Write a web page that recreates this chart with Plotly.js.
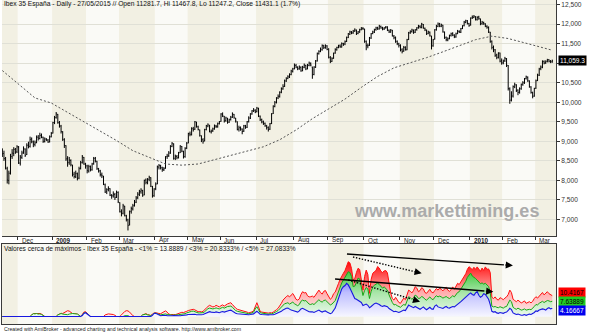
<!DOCTYPE html>
<html><head><meta charset="utf-8">
<script src="https://cdn.plot.ly/plotly-3.0.1.min.js"></script>
<style>html,body{margin:0;padding:0;background:#fff}#chart{width:592px;height:332px}</style>
</head><body><div id="chart"></div>
<script>
// ---- dates (trading days) ----
const firstDay = '2008-11-17', lastDay = '2010-03-15';
const holidays = ['2008-12-25','2008-12-26','2009-01-01','2009-04-10','2009-04-13','2009-05-01','2009-12-25','2010-01-01'];
const monthNames = ['Jan','Feb','Mar','Apr','May','Jun','Jul','Aug','Sep','Oct','Nov','Dec'];

// ---- price data (Ibex 35, daily OHLC) ----
const openP = [8750,8690,8540,8300,8000,8200,8610,8690,8800,8730,
8850,8440,8590,8710,8800,8660,8900,8870,9060,8980,
8920,8970,9110,9070,9160,9100,9000,9060,9030,8990,9120,
9210,9480,9610,9690,9470,9390,9240,9040,8890,8560,
8460,8510,8390,8160,8090,8170,8060,8310,8460,8590,8410,
8370,8240,8360,8270,8430,8570,8490,8290,8240,8140,
8100,7890,7710,7770,7790,7610,7610,7640,7570,7690,
7430,7190,7160,7340,7090,6990,6860,7210,7270,7360,7440,
7560,7640,7710,7740,7630,8010,7940,8030,8070,7840,7610,
7790,7920,8340,8370,8320,8270,8310,8610,8630,8700,
8870,8930,8570,8610,8590,8710,8870,8740,8610,8830,
8960,9190,9170,9320,9310,9490,9370,9290,9140,9040,
9010,9300,9390,9410,9240,9270,9310,9390,9370,9460,
9510,9690,9640,9530,9590,9490,9560,9610,9690,9590,
9500,9310,9340,9310,9260,9390,9360,9510,9590,9700,9770,9790,
9760,9840,9640,9560,9490,9460,9390,9360,9310,9460,9710,
9890,9990,10110,10140,10260,10340,10410,10540,10610,10640,10710,10790,
10860,10940,10890,10860,10890,10810,10890,10940,10860,10940,10990,
10900,10710,10890,11060,11240,11310,11340,11440,11390,11440,
11360,11140,11040,11130,11260,11340,11410,11440,11410,11500,
11490,11560,11660,11740,11790,11770,11820,11840,11760,11790,11860,11890,
11870,11560,11440,11460,11640,11760,11790,11860,11910,11870,11940,
11910,11870,11910,11930,11840,11790,11840,11690,11660,11560,11490,
11460,11340,11310,11410,11340,11610,11770,11810,11840,11790,11860,
11910,11940,11910,11990,11890,11840,11760,11790,11690,11440,
11620,11860,11940,12010,11940,11970,11790,11660,11590,11630,11710,
11760,11710,11670,11760,11810,11790,11890,11960,12040,12090,12010,
11980,12160,12170,12190,12110,12180,12130,12010,12040,12000,11940,
11910,11790,11560,11410,11340,11210,11140,11260,11060,
11010,11060,11110,10940,10340,10060,10160,10390,10440,10310,
10260,10340,10460,10490,10610,10640,10540,10390,10240,10160,
10360,10560,10690,10860,10890,11040,11010,11040,11090,11040,11030];
const highP = [8820,8760,8600,8350,8250,8680,8800,8850,8830,8900,
8880,8650,8760,8870,8820,8950,8990,9120,9100,9020,
9020,9150,9160,9220,9200,9120,9100,9080,9060,9150,9240,
9500,9650,9750,9700,9520,9420,9260,9080,8900,8620,
8600,8540,8400,8220,8250,8200,8350,8500,8650,8600,8450,
8400,8400,8380,8450,8600,8600,8500,8320,8270,8200,
8120,7920,7800,7850,7800,7650,7720,7680,7740,7720,
7440,7260,7400,7350,7120,7020,7230,7330,7400,7500,7600,
7700,7760,7800,7760,8020,8050,8060,8120,8080,7860,7800,
7950,8380,8420,8400,8350,8340,8620,8680,8750,8900,
8980,8950,8660,8650,8730,8900,8880,8760,8850,8980,
9220,9250,9360,9370,9520,9500,9400,9300,9150,9080,
9320,9420,9460,9420,9300,9350,9430,9420,9480,9520,
9720,9740,9650,9630,9600,9580,9650,9740,9700,9600,
9510,9400,9380,9330,9420,9420,9520,9640,9720,9800,9850,9820,
9880,9860,9660,9580,9530,9480,9420,9380,9470,9720,9920,
10030,10130,10200,10280,10380,10460,10580,10640,10690,10740,10830,10880,
10990,10980,10920,10940,10920,10930,10990,10960,10980,11040,11020,
10910,10920,11080,11270,11330,11400,11480,11470,11480,11460,
11380,11180,11150,11270,11380,11420,11470,11480,11530,11520,
11580,11680,11770,11830,11820,11850,11890,11860,11820,11880,11920,11920,
11880,11580,11500,11670,11770,11830,11880,11930,11930,11980,11960,
11930,11920,11950,11940,11860,11870,11850,11720,11680,11580,11520,
11480,11380,11440,11430,11620,11800,11840,11880,11860,11870,11920,
11980,11970,12030,12000,11910,11860,11830,11810,11700,11620,
11870,11980,12040,12030,12010,11980,11810,11680,11660,11730,11780,
11790,11740,11780,11850,11840,11900,11970,12080,12110,12100,12030,
12170,12220,12230,12200,12200,12210,12140,12080,12060,12020,11970,
11940,11800,11580,11450,11360,11240,11280,11270,11120,
11090,11160,11130,10950,10380,10280,10430,10500,10460,10330,
10380,10480,10540,10620,10680,10660,10560,10410,10270,10370,
10580,10730,10880,10940,11070,11070,11070,11110,11100,11080,11090];
const lowP = [8600,8500,8280,7920,7900,8150,8550,8620,8680,8700,
8420,8380,8550,8680,8600,8650,8820,8840,8950,8850,
8870,8950,9020,9050,9080,8960,8970,9010,8960,8970,9100,
9200,9440,9580,9450,9350,9200,9010,8830,8500,8350,
8400,8360,8100,8050,8060,8000,8030,8280,8430,8400,8300,
8180,8200,8230,8250,8400,8460,8270,8200,8100,8060,
7880,7680,7650,7720,7600,7530,7560,7500,7550,7420,
7180,7080,7130,7080,6950,6720,6850,7150,7230,7330,7420,
7520,7600,7660,7580,7620,7900,7900,7980,7830,7560,7580,
7750,7900,8280,8280,8220,8240,8300,8550,8600,8680,
8850,8530,8520,8540,8560,8700,8720,8560,8580,8800,
8950,9130,9150,9250,9290,9350,9280,9120,8980,8940,
9000,9280,9360,9230,9200,9240,9300,9340,9350,9430,
9500,9620,9480,9500,9450,9470,9530,9600,9580,9480,
9280,9250,9270,9180,9240,9320,9340,9480,9570,9680,9750,9720,
9740,9620,9520,9460,9420,9370,9300,9250,9290,9440,9700,
9870,9970,10080,10120,10230,10320,10390,10520,10590,10620,10690,10760,
10840,10870,10820,10830,10780,10790,10870,10820,10840,10920,10920,
10600,10690,10880,11040,11220,11280,11320,11360,11370,11330,
11120,11000,11030,11110,11240,11320,11380,11390,11400,11440,
11460,11540,11640,11720,11740,11750,11800,11720,11740,11780,11840,11850,
11520,11330,11380,11440,11620,11740,11770,11830,11850,11860,11880,
11840,11850,11880,11820,11770,11780,11680,11610,11520,11460,11400,
11300,11250,11290,11320,11330,11590,11750,11780,11750,11770,11830,
11880,11890,11890,11880,11820,11720,11740,11680,11350,11420,
11600,11830,11920,11920,11920,11780,11620,11560,11560,11610,11680,
11690,11640,11650,11740,11770,11770,11870,11940,12020,11990,11930,
11960,12130,12150,12090,12090,12110,11970,11980,11980,11920,11880,
11770,11520,11350,11280,11160,11100,11120,11020,10960,
10970,11030,10900,10300,9960,10020,10120,10360,10260,10180,
10220,10320,10420,10470,10580,10520,10370,10220,10100,10140,
10340,10540,10670,10820,10870,10970,10980,11020,11020,11000,11010];
const closeP = [8680,8560,8320,8010,8180,8620,8700,8790,8720,8860,
8450,8600,8700,8820,8640,8900,8880,9050,9000,8930,
8960,9100,9080,9150,9120,9000,9060,9040,8980,9110,9200,
9480,9600,9700,9480,9400,9250,9050,8900,8550,8450,
8520,8400,8150,8100,8180,8050,8300,8450,8600,8420,8380,
8250,8350,8280,8420,8560,8500,8300,8250,8150,8120,
7900,7700,7760,7800,7620,7600,7650,7560,7700,7450,
7200,7150,7350,7100,7000,6850,7200,7280,7350,7450,7550,
7650,7700,7750,7620,8000,7950,8020,8080,7850,7600,7780,
7900,8350,8380,8330,8280,8300,8600,8620,8700,8880,
8950,8560,8620,8580,8700,8880,8750,8600,8820,8950,
9200,9180,9330,9300,9500,9380,9300,9150,9050,9000,
9300,9400,9420,9250,9260,9320,9400,9380,9450,9500,
9700,9650,9520,9600,9480,9550,9620,9700,9600,9520,
9300,9350,9320,9250,9400,9350,9500,9600,9700,9780,9800,9750,
9850,9650,9550,9500,9450,9400,9350,9300,9450,9700,9900,
10000,10100,10150,10250,10350,10400,10550,10600,10650,10700,10800,10850,
10950,10900,10850,10900,10800,10900,10950,10850,10950,11000,10950,
10700,10900,11050,11250,11300,11350,11450,11400,11450,11350,
11150,11050,11120,11250,11350,11400,11450,11420,11500,11480,
11550,11650,11750,11800,11780,11820,11850,11750,11800,11850,11900,11880,
11550,11450,11450,11650,11750,11800,11850,11900,11880,11950,11900,
11880,11900,11920,11850,11800,11850,11700,11650,11550,11500,11450,
11350,11300,11400,11350,11600,11780,11800,11850,11780,11850,11900,
11950,11920,12000,11900,11850,11750,11800,11700,11450,11600,
11850,11950,12000,11950,11980,11800,11650,11600,11620,11700,11750,
11720,11680,11750,11820,11800,11880,11950,12050,12080,12020,11960,
12150,12180,12200,12120,12170,12140,12000,12050,12010,11950,11920,
11800,11550,11400,11350,11200,11150,11250,11050,11000,
11050,11120,10950,10350,10050,10150,10400,10450,10300,10250,
10350,10450,10500,10600,10650,10550,10400,10250,10150,10350,
10550,10700,10850,10900,11050,11000,11050,11080,11050,11040,11059.3];

// ---- moving average (dashed), sampled at bar positions ----
const maBar = [0,10,20,30,40,50,60,70,80,90,100,110,120,130,140,150,160,170,180,190,200,210,220,230,240,250,260,270,280,290,300,310,320,330,337];
const maValue = [10810,10470,10110,9980,9740,9520,9270,9020,8760,8600,8420,8390,8420,8530,8640,8740,8860,9040,9290,9580,9820,10080,10380,10660,10880,11000,11140,11290,11440,11600,11690,11630,11520,11400,11330];

// ---- lower pane: % of values near highs ----
const near5 = [0,0,0,0,0,0,0,0,0,0,
0,0,0,0,0,0,0,0,0.8,1.4,
1.5,1.6,1.4,1.5,1.2,0.6,0,0,0,0,
0,0,0,0,0.8,1.4,1.6,1.5,2.0,2.6,
2.9,2.7,2.2,1.5,1.5,1.4,1.2,0.6,0,1.0,
2.2,2.4,1.8,0.8,0,0,0,0,0,0,
0,0,0,0.8,1.2,1.3,1.2,1.2,1.0,0.6,
0,0,0,0.8,1.8,2.5,2.9,2.8,2.2,1.2,
0.4,0,0,0,0,0,0.8,1.3,1.4,1.0,
0.6,0.5,1.2,1.8,1.9,1.6,1.5,1.4,1.8,2.6,
2.8,2.2,1.2,1.0,1.1,1.0,0.9,1.2,1.4,1.8,
2.1,2.0,2.2,2.6,3.0,3.2,3.5,3.6,3.3,2.8,
2.4,2.5,2.3,2.6,3.2,4.2,5.0,5.6,5.2,4.8,
5.0,5.6,5.2,4.8,5.4,5.8,5.2,5.9,6.3,6.6,
6.9,6.0,4.8,4.2,3.6,3.4,3.2,3.0,2.8,2.6,
2.2,1.8,2.0,2.3,2.9,5.0,6.9,4.8,2.6,2.2,
2.0,1.8,1.6,1.7,1.9,1.8,2.2,2.6,3.4,4.1,
5.2,6.6,8.2,9.2,9.9,10.5,9.8,10.7,11.5,10.2,
8.6,8.2,8.8,11.0,12.4,11.8,12.0,10.4,9.8,9.9,
10.2,9.6,10.8,12.4,13.2,12.0,11.2,12.6,13.0,11.4,
10.2,8.6,9.4,11.4,12.2,14.0,16.5,18.6,20.4,21.6,
23.0,25.5,27.4,26.8,24.0,18.2,19.0,22.0,24.1,23.5,
19.0,13.2,20.0,23.2,21.0,11.6,18.5,21.6,22.4,23.0,
25.0,24.2,22.6,22.0,22.8,23.0,21.8,16.0,11.7,9.0,
8.2,9.6,8.4,7.0,6.6,8.0,9.2,8.4,10.8,13.2,
12.6,11.8,13.0,14.9,14.2,12.4,13.0,14.4,13.8,12.0,
11.6,12.8,13.6,12.2,11.8,13.0,14.0,13.2,14.2,13.6,
12.8,13.8,14.6,13.2,12.6,13.4,14.8,13.6,15.2,16.6,
16.0,17.4,18.2,19.8,21.4,23.6,24.9,24.2,23.4,24.6,
23.6,24.8,23.4,22.6,24.2,23.0,24.8,23.6,23.8,22.0,
9.6,9.0,9.8,8.6,8.2,9.4,9.0,8.4,9.2,9.8,
11.0,13.2,12.0,8.6,8.0,7.4,8.2,7.6,6.8,7.2,
7.8,6.6,7.0,7.4,6.8,7.6,9.0,9.9,9.2,10.2,
11.0,12.0,10.8,11.6,12.4,11.4,10.8,10.4167];
const near3 = [0,0,0,0,0,0,0,0,0,0,
0,0,0,0,0,0,0,0,0.8,1.4,
1.3,1.5,1.2,1.3,1.0,0.5,0,0,0,0,
0,0,0,0,0.8,1.3,1.5,1.2,1.0,0.8,
0.9,1.2,1.4,1.5,1.4,1.3,1.2,0.6,0,0.8,
1.8,2.0,1.4,0.5,0,0,0,0,0,0,
0,0,0,0,0,0,0,0,0,0,
0,0,0,0,0,0.4,0.5,0.4,0,0,
0,0,0,0,0,0,0.8,1.2,1.2,0.8,
0.5,0.5,0.8,1.6,1.7,1.2,1.0,0.8,1.0,1.2,
1.3,1.0,0.8,0.6,0.7,0.7,0.6,0.8,0.9,1.0,
1.2,1.2,1.4,1.8,2.2,2.4,2.6,2.7,2.4,2.0,
1.8,1.8,1.7,1.9,2.4,3.2,3.9,4.2,4.0,3.8,
4.0,4.3,4.0,3.8,4.2,4.6,4.2,4.7,5.0,5.1,
5.2,4.6,3.6,3.0,2.6,2.4,2.2,2.1,2.0,1.9,
1.6,1.4,1.5,1.7,2.2,3.8,4.9,3.4,1.9,1.7,
1.5,1.3,1.2,1.2,1.4,1.3,1.6,1.9,2.5,3.0,
3.8,4.8,5.8,6.4,6.6,6.9,6.2,6.8,7.2,6.4,
5.8,5.4,6.0,7.6,8.2,7.8,8.0,6.8,6.2,6.0,
6.4,6.0,6.8,7.8,8.4,7.6,7.2,8.0,8.2,7.4,
6.6,5.8,6.2,7.4,8.0,10.2,12.6,15.0,16.8,18.2,
19.5,21.2,22.4,22.0,20.0,14.9,15.2,17.0,19.2,18.8,
15.0,10.5,13.0,14.5,13.8,9.0,12.5,14.8,15.6,16.4,
16.7,16.0,15.0,14.2,14.8,14.0,13.2,10.8,8.8,7.0,
5.8,6.0,5.4,4.8,4.6,5.4,6.0,5.6,7.6,9.9,
9.4,8.6,9.4,10.7,10.2,9.0,9.2,10.0,9.6,8.6,
8.2,9.0,9.8,8.8,8.4,9.6,10.4,9.8,10.2,9.8,
9.2,9.6,10.0,9.4,9.0,9.6,10.4,9.8,11.0,12.0,
12.4,13.8,14.9,16.0,17.6,19.6,21.0,21.7,20.2,19.8,
19.0,18.2,17.0,16.4,16.8,16.2,16.6,16.0,15.0,12.0,
5.2,4.8,5.0,4.6,4.4,4.9,4.6,4.2,4.8,5.0,
6.6,8.2,7.4,4.6,4.0,3.6,4.2,3.8,3.2,3.4,
3.8,3.2,3.4,3.6,3.4,4.0,5.0,6.0,5.8,6.6,
7.0,7.6,7.0,7.4,8.0,7.8,7.4,7.63889];
const near1 = [0,0,0,0,0,0,0,0,0,0,
0,0,0,0,0,0,0,0,0,0,
0,0,0,0,0,0,0,0,0,0,
0,0,0,0,0,0,0,0,0,0,
0,0,0,0,0,0,0,0,0,0.5,
1.5,1.9,1.2,0.3,0,0,0,0,0,0,
0,0,0,0,0,0,0,0,0,0,
0,0,0,0,0,0,0,0,0,0,
0,0,0,0,0,0,0,0,0,0,
0,0,0.6,1.5,1.6,1.2,0.6,0.4,0.5,0.6,
0.6,0.4,0.3,0.3,0.4,0.5,0.4,0.5,0.4,0.4,
0.5,0.5,0.6,0.8,1.0,1.1,1.2,1.3,1.1,0.9,
0.8,0.8,0.9,1.0,1.3,1.8,2.2,2.4,2.2,2.0,
2.0,2.3,2.1,1.9,2.2,2.5,2.2,2.6,2.9,3.0,
3.2,2.6,2.0,1.6,1.4,1.3,1.2,1.1,1.1,1.0,
1.0,0.9,1.0,1.1,1.3,2.0,2.6,1.9,1.1,1.0,
0.9,0.8,0.8,0.8,0.9,0.8,0.9,1.1,1.4,1.7,
2.0,2.6,3.3,3.8,4.1,4.2,3.5,3.2,3.0,2.6,
2.4,2.2,2.8,3.8,4.1,3.6,3.4,2.8,2.4,2.3,
2.4,2.0,2.4,3.0,3.2,2.6,2.2,2.6,2.8,2.2,
1.8,1.4,1.8,3.0,4.2,6.6,9.4,12.0,13.8,14.9,
15.5,16.6,15.8,14.2,12.4,9.9,9.0,8.6,8.2,7.8,
7.0,5.5,5.8,6.2,5.6,4.4,5.0,5.8,6.4,6.7,
6.5,6.0,5.4,5.0,5.4,5.0,4.9,4.0,3.4,2.8,
2.4,2.6,2.2,2.0,2.4,2.8,3.2,3.0,4.4,5.7,
5.2,4.6,4.4,5.0,4.6,3.8,3.6,4.2,4.8,4.0,
3.4,4.0,4.6,3.8,3.6,5.2,5.8,4.8,4.4,4.2,
4.0,4.6,5.0,4.4,4.2,4.6,5.0,4.8,5.4,6.0,
6.4,7.4,8.2,8.8,9.6,10.4,11.2,11.8,11.0,10.6,
11.8,12.4,10.6,9.6,10.2,11.4,11.0,9.4,8.6,6.0,
2.6,2.2,2.4,1.8,1.6,2.0,1.8,1.6,2.0,2.2,
3.0,4.1,3.4,1.8,1.4,1.0,1.2,0.8,0.6,0.7,
1.0,0.6,0.8,1.2,1.0,1.4,2.0,2.8,2.6,3.2,
3.4,3.8,3.6,3.2,4.0,4.4,3.8,4.16667];

// ---- trend arrows drawn on the lower pane (bar, value) ----
const arrowFromBar = [211.2, 214.9, 203.9, 212.0];
const arrowFromVal = [31.25, 29.75, 18.75, 18.25];
const arrowToBar   = [312.9, 257.0, 300.9, 256.0];
const arrowToVal   = [25.5, 21.6, 12.4, 7.4];
const arrowDotted  = [false, true, false, true];

// ---- texts ----
const titleText = 'Ibex 35 España - Daily - 27/05/2015 // Open 11281.7, Hi 11467.8, Lo 11247.2, Close 11431.1 (1.7%)';
const lowerTitle = 'Valores cerca de máximos - Ibex 35 España - <1% = 13.8889 / <3% = 20.8333% / <5% = 27.0833%';
const footerText = 'Created with AmiBroker - advanced charting and technical analysis software. http://www.amibroker.com';
const watermark = 'www.markettiming.es';
const priceTicks = [7000,7500,8000,8500,9000,9500,10000,10500,11000,11500,12000,12500];
const hiddenTick = 11000; // label covered by the last-value tag

// ================= build =================
const dates = [];
for (let d = new Date(firstDay + 'T00:00:00Z'); d <= new Date(lastDay + 'T00:00:00Z'); d.setUTCDate(d.getUTCDate() + 1)) {
  const wd = d.getUTCDay(); const s = d.toISOString().slice(0, 10);
  if (wd === 0 || wd === 6 || holidays.includes(s)) continue;
  dates.push(s);
}
const bars = closeP.map((_, k) => k);

const W = 592, H = 332, ML = 2, MR = 36;
const PW = W - ML - MR;
const XR = [-0.2, 339.3];
const topY0 = 236, lowTop = 244, lowBot = 324;
const YR = [6578, 12615];
const Y2R = [-3.75, 36.25];
const FONT = 'Liberation Sans, Arial, sans-serif';
const pp = y => 1 - y / H; // pixel row -> paper

const groups = [];
dates.forEach((d, k) => {
  const m = d.slice(0, 7);
  if (!groups.length || groups[groups.length - 1].m !== m) groups.push({ m, start: k, end: k });
  else groups[groups.length - 1].end = k;
});

const shapes = [], annotations = [];
groups.forEach((g, gi) => {
  const month = +g.m.slice(5, 7);
  const x0 = gi === 0 ? XR[0] : g.start - 0.5;
  const x1 = gi === groups.length - 1 ? XR[1] : g.end + 0.5;
  const col = month % 2 === 1 ? '#F2F0E3' : '#FAFAF6';
  shapes.push({ type: 'rect', xref: 'x', yref: 'y domain', x0, x1, y0: 0, y1: 1, fillcolor: col, line: { width: 0 }, layer: 'below' });
  shapes.push({ type: 'rect', xref: 'x2', yref: 'y2 domain', x0, x1, y0: 0, y1: 1, fillcolor: col, line: { width: 0 }, layer: 'below' });
  if (gi > 0) {
    const txt = month === 1 ? '<b>' + g.m.slice(0, 4) + '</b>' : monthNames[month - 1];
    annotations.push({ text: txt, xref: 'x', yref: 'paper', x: g.start + 0.9, y: pp(240), xanchor: 'left', yanchor: 'middle', showarrow: false, font: { family: FONT, size: 6.3, color: '#222' } });
  }
});
const tickBars = groups.slice(1).map(g => g.start - 0.5);

// arrows
const pxX = PW / (XR[1] - XR[0]), pxY = (lowBot - lowTop) / (Y2R[1] - Y2R[0]);
arrowFromBar.forEach((_, a) => {
  const sx = arrowFromBar[a], sy = arrowFromVal[a], ex = arrowToBar[a], ey = arrowToVal[a];
  const len = Math.hypot((ex - sx) * pxX, (ey - sy) * pxY);
  const f = 9 / len;
  const tx = ex - (ex - sx) * f, ty = ey - (ey - sy) * f;
  shapes.push({ type: 'line', xref: 'x2', yref: 'y2', x0: sx, y0: sy, x1: tx, y1: ty, line: { color: '#000', width: arrowDotted[a] ? 1.4 : 1.3, dash: arrowDotted[a] ? '1.4px,1.6px' : 'solid' }, layer: 'above' });
  annotations.push({ text: '', xref: 'x2', yref: 'y2', x: ex, y: ey, axref: 'x2', ayref: 'y2', ax: tx, ay: ty, showarrow: true, arrowhead: 2, arrowsize: 1.1, arrowwidth: 1.3, arrowcolor: '#000' });
});

// texts
annotations.push({ text: titleText, xref: 'paper', yref: 'paper', x: 0, y: pp(4.5), xanchor: 'left', yanchor: 'middle', showarrow: false, font: { family: FONT, size: 6.7, color: '#111' } });
annotations.push({ text: lowerTitle, xref: 'paper', yref: 'paper', x: 0, y: pp(248.5), xanchor: 'left', yanchor: 'middle', showarrow: false, font: { family: FONT, size: 6.6, color: '#111' } });
annotations.push({ text: footerText, xref: 'paper', yref: 'paper', x: 0, y: pp(328.5), xanchor: 'left', yanchor: 'middle', showarrow: false, font: { family: FONT, size: 5.2, color: '#222' } });
annotations.push({ text: '<b>' + watermark + '</b>', xref: 'paper', yref: 'paper', x: (446 - ML) / PW, y: pp(210.5), xanchor: 'center', yanchor: 'middle', showarrow: false, font: { family: FONT, size: 18, color: '#ABABAB' } });
// last-value tags
const lastClose = closeP[closeP.length - 1];
annotations.push({ text: lastClose.toLocaleString('en-US', { minimumFractionDigits: 1 }), xref: 'paper', yref: 'y', x: 1, y: lastClose, xanchor: 'left', yanchor: 'middle', xshift: 2, showarrow: false, bgcolor: '#000', borderpad: 1, font: { family: FONT, size: 6.5, color: '#fff' } });
const tagDefs = [[near5, '#FF0000', '#000', 3], [near3, '#22CC22', '#000', 0], [near1, '#0000EE', '#fff', -2]];
tagDefs.forEach(([arr, bg, fg, sh]) => {
  const v = arr[arr.length - 1];
  annotations.push({ text: String(+v.toFixed(6)), xref: 'paper', yref: 'y2', x: 1, y: v, yshift: sh, xanchor: 'left', yanchor: 'middle', xshift: 2, showarrow: false, bgcolor: bg, borderpad: 1, font: { family: FONT, size: 6.5, color: fg } });
});

const tickText = priceTicks.map(v => v === hiddenTick ? '' : v.toLocaleString('en-US'));

const traces = [
  { type: 'ohlc', x: bars, open: openP, high: highP, low: lowP, close: closeP, xaxis: 'x', yaxis: 'y',
    increasing: { line: { color: '#000', width: 1 } }, decreasing: { line: { color: '#000', width: 1 } }, tickwidth: 0.4, hoverinfo: 'skip' },
  { type: 'scatter', mode: 'lines', x: maBar, y: maValue, xaxis: 'x', yaxis: 'y', line: { color: '#555', width: 1, dash: '2px,2px' }, hoverinfo: 'skip' },
  { type: 'scatter', mode: 'lines', x: bars, y: near5, xaxis: 'x2', yaxis: 'y2', line: { color: '#FF1010', width: 1 }, fill: 'tozeroy',
    fillgradient: { type: 'vertical', start: 0, stop: 28, colorscale: [[0, 'rgb(255,242,242)'], [0.45, 'rgb(255,170,170)'], [1, 'rgb(255,0,0)']] }, hoverinfo: 'skip' },
  { type: 'scatter', mode: 'lines', x: bars, y: near3, xaxis: 'x2', yaxis: 'y2', line: { color: '#14A814', width: 1 }, fill: 'tozeroy',
    fillgradient: { type: 'vertical', start: 0, stop: 26, colorscale: [[0, 'rgb(238,250,238)'], [0.45, 'rgb(170,230,170)'], [1, 'rgb(30,190,30)']] }, hoverinfo: 'skip' },
  { type: 'scatter', mode: 'lines', x: bars, y: near1, xaxis: 'x2', yaxis: 'y2', line: { color: '#1818E0', width: 1.1 }, fill: 'tozeroy',
    fillgradient: { type: 'vertical', start: 0, stop: 24, colorscale: [[0, 'rgb(246,246,255)'], [0.5, 'rgb(190,190,255)'], [1, 'rgb(70,70,255)']] }, hoverinfo: 'skip' }
];

const layout = {
  width: W, height: H, margin: { l: ML, r: MR, t: 0, b: 0 }, paper_bgcolor: '#fff', plot_bgcolor: 'rgba(0,0,0,0)',
  showlegend: false, hovermode: false, dragmode: false,
  xaxis: { domain: [0, 1], anchor: 'y', range: XR, type: 'linear', rangeslider: { visible: false }, showgrid: false, zeroline: false,
    tickvals: tickBars, ticks: 'outside', ticklen: 3, tickcolor: '#333', showticklabels: false, showline: true, mirror: true, linecolor: '#3a3a3a', linewidth: 1 },
  yaxis: { domain: [pp(topY0), 1], anchor: 'x', range: YR, side: 'right', tickvals: priceTicks, ticktext: tickText, ticks: 'outside', ticklen: 3, tickcolor: '#333',
    tickfont: { family: FONT, size: 6.6, color: '#333' }, showgrid: true, gridcolor: '#E0E0D6', gridwidth: 1, zeroline: false, showline: true, linecolor: '#3a3a3a', linewidth: 1 },
  xaxis2: { domain: [0, 1], anchor: 'y2', range: XR, matches: 'x', showgrid: false, zeroline: false, showticklabels: false, ticks: '', showline: true, mirror: true, linecolor: '#3a3a3a', linewidth: 1 },
  yaxis2: { domain: [pp(lowBot), pp(lowTop)], anchor: 'x2', range: Y2R, showgrid: false, zeroline: false, showticklabels: false, ticks: '', showline: true, mirror: true, linecolor: '#3a3a3a', linewidth: 1 },
  shapes, annotations
};

Plotly.newPlot('chart', traces, layout, { staticPlot: true, displayModeBar: false });
</script>
</body></html>
